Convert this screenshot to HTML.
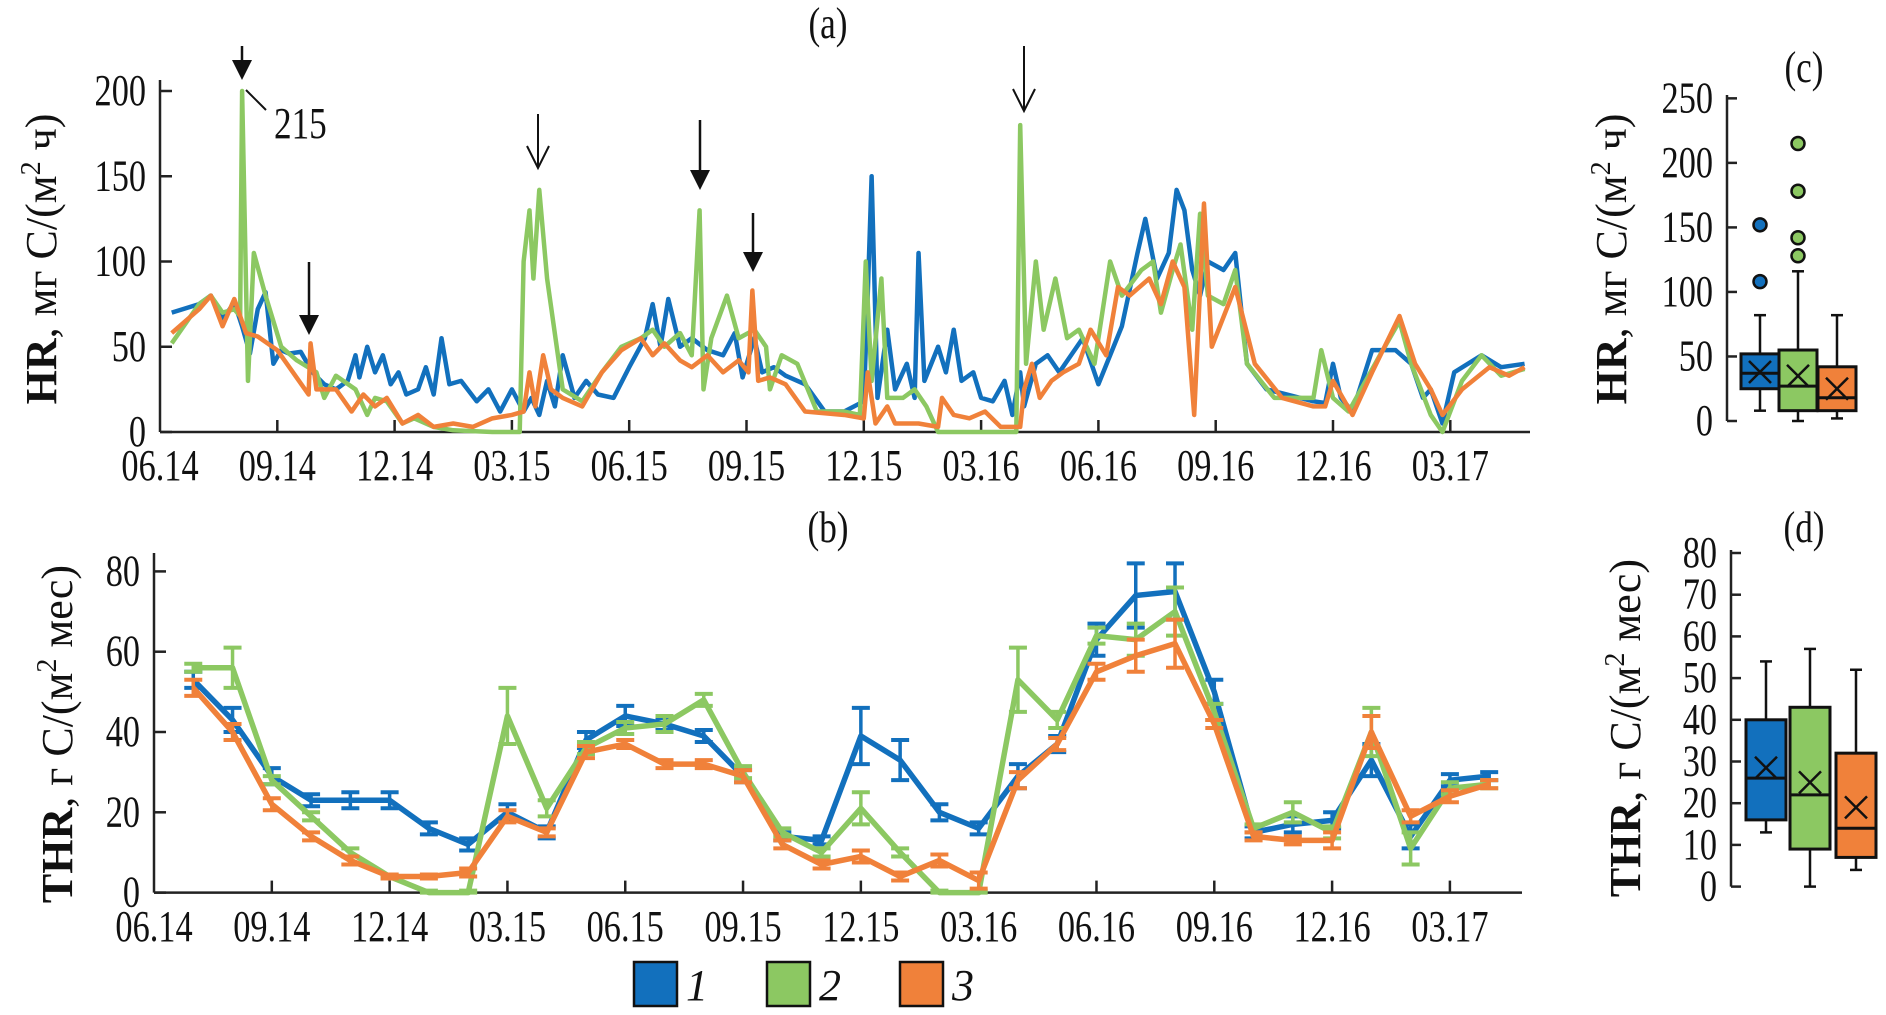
<!DOCTYPE html>
<html><head><meta charset="utf-8"><style>
body{margin:0;background:#fff}
svg{display:block;font-family:"Liberation Serif",serif}
</style></head><body>
<svg id="chart" width="1886" height="1015" viewBox="0 0 1886 1015" xmlns="http://www.w3.org/2000/svg"></svg>
<script>
const seriesColors=['#1270bd','#8cc862','#f0813a'];
const xTickLabels=['06.14','09.14','12.14','03.15','06.15','09.15','12.15','03.16','06.16','09.16','12.16','03.17'];
const hrTicks=[0,50,100,150,200];
const thrTicks=[0,20,40,60,80];
const hrBoxTicks=[0,50,100,150,200,250];
const thrBoxTicks=[0,10,20,30,40,50,60,70,80];
// HR series: [month since 06.14, value]
const hrBlue=[[0.3,70],[1,75],[1.3,80],[1.6,66],[1.9,76],[2.1,62],[2.3,46],[2.5,72],[2.7,82],[2.9,40],[3.1,48],[3.3,46],[3.6,47],[3.9,35],[4.2,28],[4.5,25],[4.8,30],[5,45],[5.1,32],[5.3,50],[5.5,35],[5.7,45],[5.9,28],[6.1,35],[6.3,22],[6.6,25],[6.8,38],[7.0,22],[7.2,55],[7.4,28],[7.7,30],[8.1,18],[8.4,25],[8.7,12],[9.0,25],[9.3,12],[9.5,20],[9.7,10],[9.9,30],[10.1,15],[10.3,45],[10.6,20],[10.9,30],[11.2,22],[11.6,20],[12,38],[12.4,55],[12.6,75],[12.8,50],[13.0,78],[13.3,50],[13.6,55],[14,48],[14.4,45],[14.7,58],[14.9,32],[15.2,55],[15.4,35],[15.7,38],[16.0,33],[16.5,28],[17,12],[17.5,12],[18.0,18],[18.1,80],[18.2,150],[18.35,20],[18.6,60],[18.8,25],[19.1,40],[19.3,20],[19.4,105],[19.55,30],[19.9,50],[20.1,35],[20.3,60],[20.5,30],[20.8,35],[21,20],[21.3,18],[21.6,30],[21.8,10],[22.0,35],[22.1,15],[22.4,40],[22.7,45],[23,35],[23.3,45],[23.6,55],[24,28],[24.3,45],[24.6,62],[25.0,105],[25.2,125],[25.5,90],[25.8,105],[26.0,142],[26.2,130],[26.4,95],[26.6,80],[26.8,100],[27.2,95],[27.5,105],[27.8,40],[28.3,25],[29.5,18],[29.8,17],[30.0,40],[30.2,20],[30.5,12],[31,48],[31.6,48],[32.0,40],[32.3,20],[32.5,25],[32.8,5],[33.1,35],[33.8,45],[34.3,38],[34.9,40]];
const hrGreen=[[0.3,52],[1,75],[1.3,80],[1.6,70],[1.9,72],[2.05,68],[2.1,200],[2.25,30],[2.4,105],[2.7,80],[3.1,50],[3.5,42],[4,35],[4.2,20],[4.5,33],[5,25],[5.3,10],[5.5,20],[5.8,18],[6.2,5],[6.5,8],[7,3],[7.5,1],[8.5,0],[9.2,0],[9.3,100],[9.45,130],[9.55,90],[9.7,142],[9.9,90],[10.3,25],[10.8,18],[11.3,35],[11.8,50],[12.3,55],[12.6,60],[12.9,50],[13.3,58],[13.6,45],[13.8,130],[13.9,25],[14.1,55],[14.5,80],[14.8,55],[15.2,60],[15.5,50],[15.6,25],[15.9,45],[16.3,40],[16.8,12],[17.5,12],[17.9,10],[18.05,100],[18.2,30],[18.45,90],[18.6,20],[19.0,20],[19.3,25],[19.6,15],[19.9,0],[21.9,0],[22.0,180],[22.15,40],[22.4,100],[22.6,60],[22.9,90],[23.2,55],[23.5,60],[23.9,40],[24.3,100],[24.6,80],[25.1,95],[25.4,100],[25.6,70],[25.9,95],[26.1,110],[26.4,60],[26.6,128],[26.8,80],[27.2,75],[27.5,95],[27.8,40],[28.5,20],[29.5,20],[29.7,48],[30.0,20],[30.4,12],[31.2,45],[31.7,65],[32.0,40],[32.5,10],[32.8,0],[33.3,30],[33.8,45],[34.3,33],[34.9,37]];
const hrOrange=[[0.3,58],[1,72],[1.3,80],[1.6,62],[1.9,78],[2.2,58],[2.5,56],[3.0,48],[3.4,35],[3.8,22],[3.85,52],[4.0,25],[4.5,25],[4.9,12],[5.2,22],[5.5,15],[5.8,20],[6.2,5],[6.6,10],[7.0,3],[7.5,5],[8,3],[8.5,8],[9.0,10],[9.3,12],[9.45,35],[9.6,15],[9.8,45],[10.0,25],[10.3,20],[10.8,15],[11.3,35],[11.8,48],[12.3,55],[12.6,45],[12.9,52],[13.3,42],[13.6,38],[14.0,45],[14.4,35],[14.8,42],[15.05,35],[15.15,83],[15.3,30],[15.6,32],[16.0,28],[16.5,12],[17.5,10],[18.0,8],[18.1,35],[18.3,5],[18.6,15],[18.8,5],[19.4,5],[19.9,3],[20.0,20],[20.3,10],[20.7,8],[21.1,12],[21.5,3],[22.0,3],[22.1,25],[22.3,40],[22.5,20],[22.8,30],[23.1,35],[23.5,40],[23.8,60],[24.2,45],[24.5,85],[24.8,80],[25.3,90],[25.6,75],[25.9,100],[26.2,85],[26.45,10],[26.7,134],[26.9,50],[27.5,85],[28,40],[28.7,20],[29.5,15],[29.8,15],[30.0,30],[30.5,10],[31.0,35],[31.7,68],[32.1,40],[32.5,25],[32.8,10],[33.3,25],[34.0,38],[34.5,33],[34.9,38]];
// THR monthly (months 1..34 since 06.14)
const thrMonths=[1,2,3,4,5,6,7,8,9,10,11,12,13,14,15,16,17,18,19,20,21,22,23,24,25,26,27,28,29,30,31,32,33,34];
const thrBlue=[53,43,29,23,23,23,16,12,20,15,38,44,42,39,29,14,13,39,33,20,16,29,37,63,74,75,50,15,17,18,33,14,28,29];
const thrGreen=[56,56,28,19,10,4,0,0,44,21,36,41,42,48,30,15,10,21,10,0,0,53,43,64,63,70,45,16,20,15,40,11,26,27];
const thrOrange=[51,40,22,14,8,4,4,5,19,15,35,37,32,32,29,12,7,9,4,8,3,28,37,55,59,62,42,14,13,13,40,19,24,27];
const thrBlueErr=[2,3,2,1.5,2,2,1.5,1.5,2,1.5,2,2.5,1.5,1.5,1.5,1,1,7,5,2,1.5,3,2,4,8,7,3,1.5,2,2,4,3,1.5,1];
const thrGreenErr=[1,5,1,1,1,0.5,0.5,0.5,7,2,1.5,1.5,2,1.5,1.5,1,1,4,1,0.5,0.5,8,2,2,4,6,2,1,2.5,1.5,6,4,1.5,1];
const thrOrangeErr=[2,2,1.5,1,1,0.5,0.5,1,1.5,1,1.5,1,1,1,1.5,1,1,1.5,1,1.5,2,2,1.5,2,4,6,1,1,1,2,4,1.5,1.5,1];
// Box plot stats: [low, q1, median, q3, high, mean]
const hrBoxBlue=[8,25,37,52,82,38];
const hrBoxGreen=[0,8,27,55,116,35];
const hrBoxOrange=[2,8,18,42,82,25];
const hrOutBlue=[108,152];
const hrOutGreen=[128,142,178,215];
const hrOutOrange=[];
const thrBoxBlue=[13,16,26,40,54,28.5];
const thrBoxGreen=[0,9,22,43,57,25];
const thrBoxOrange=[4,7,14,32,52,19];

const NS='http://www.w3.org/2000/svg';
const svg=document.getElementById('chart');
function mk(tag,attrs,parent){const e=document.createElementNS(NS,tag);for(const k in attrs)e.setAttribute(k,attrs[k]);(parent||svg).appendChild(e);return e;}
function txt(x,y,s,size,anchor,parent,sx){const g=mk('g',{transform:`translate(${x},${y}) scale(${sx||0.78},1)`},parent);const t=mk('text',{x:0,y:0,'font-size':size,'text-anchor':anchor||'middle',fill:'#111'},g);t.textContent=s;return t;}

const xA=m=>160+m*39.1, yA=v=>432-v*1.705;
const xB=m=>154+m*39.27, yB=v=>892.6-v*4.015;
const yC=v=>421-v*1.2906, yD=v=>886.6-v*4.17;
const TF=44;

function axes(xs,ys,yTicks,x0,x1,yTop,y0,labelY,name){
  const g=mk('g',{});
  
  
  mk('line',{x1:x0,y1:yTop,x2:x0,y2:y0,stroke:'#222','stroke-width':2.5},g);
  mk('line',{x1:x0,y1:y0,x2:x1,y2:y0,stroke:'#222','stroke-width':2.5},g);
  yTicks.forEach(v=>{mk('line',{x1:x0,y1:ys(v),x2:x0+12,y2:ys(v),stroke:'#222','stroke-width':2.5},g);
    txt(x0-14,ys(v)+14,String(v),TF,'end',g);});
  xTickLabels.forEach((l,i)=>{const x=xs(i*3);if(i>0)mk('line',{x1:x,y1:y0,x2:x,y2:y0-12,stroke:'#222','stroke-width':2.5},g);
    txt(x,labelY,l,TF,'middle',g);});
}
axes(xA,yA,hrTicks,160,1530,80,432,480,'hr-axes');
axes(xB,yB,thrTicks,154,1522,553,892.6,941,'thr-axes');

function hrLine(data,color,name){
  const p=mk('polyline',{points:data.map(d=>xA(d[0])+','+yA(Math.min(d[1],200))).join(' '),fill:'none',stroke:color,'stroke-width':4.5,'stroke-linejoin':'round'});
  
  
}
hrLine(hrBlue,seriesColors[0],'hr-line-1');
hrLine(hrGreen,seriesColors[1],'hr-line-2');
hrLine(hrOrange,seriesColors[2],'hr-line-3');

function thrLine(vals,errs,color,name){
  const g=mk('g',{});
  
  
  vals.forEach((v,i)=>{const x=xB(thrMonths[i]);const lo=Math.max(0,v-errs[i]),hi=v+errs[i];
    mk('line',{x1:x,y1:yB(lo),x2:x,y2:yB(hi),stroke:color,'stroke-width':3.5},g);
    mk('line',{x1:x-9,y1:yB(lo),x2:x+9,y2:yB(lo),stroke:color,'stroke-width':4},g);
    mk('line',{x1:x-9,y1:yB(hi),x2:x+9,y2:yB(hi),stroke:color,'stroke-width':4},g);});
  mk('polyline',{points:vals.map((v,i)=>xB(thrMonths[i])+','+yB(v)).join(' '),fill:'none',stroke:color,'stroke-width':5.5,'stroke-linejoin':'round'},g);
}
thrLine(thrBlue,thrBlueErr,seriesColors[0],'thr-line-1');
thrLine(thrGreen,thrGreenErr,seriesColors[1],'thr-line-2');
thrLine(thrOrange,thrOrangeErr,seriesColors[2],'thr-line-3');

function arrow(x,y1,y2,filled,name){const g=mk('g',{});
  
  
  if(filled){mk('line',{x1:x,y1:y1,x2:x,y2:y2-16,stroke:'#111','stroke-width':2.5},g);
    mk('polygon',{points:`${x-10},${y2-20} ${x+10},${y2-20} ${x},${y2}`,fill:'#111'},g);}
  else{mk('line',{x1:x,y1:y1,x2:x,y2:y2,stroke:'#111','stroke-width':2},g);
    mk('polyline',{points:`${x-11},${y2-22} ${x},${y2} ${x+11},${y2-22}`,fill:'none',stroke:'#111','stroke-width':2},g);}
}
arrow(242,46,80,true,'arrow-1');
arrow(309,262,335,true,'arrow-2');
arrow(538,114,168,false,'arrow-3');
arrow(700,120,190,true,'arrow-4');
arrow(753,213,272,true,'arrow-5');
arrow(1024,46,111,false,'arrow-6');
mk('line',{x1:246,y1:90,x2:266,y2:110,stroke:'#111','stroke-width':2});
const l215=txt(274,138,'215',TF,'start',null,0.8);



function boxAxis(x0,ys,ticks,yTop,name){const g=mk('g',{});
  
  
  mk('line',{x1:x0,y1:yTop,x2:x0,y2:ys(0),stroke:'#222','stroke-width':2.5},g);
  ticks.forEach(v=>{mk('line',{x1:x0,y1:ys(v),x2:x0+10,y2:ys(v),stroke:'#222','stroke-width':2.5},g);
    txt(x0-14,ys(v)+14,String(v),TF,'end',g);});}
boxAxis(1727,yC,hrBoxTicks,95,'hr-box-axis');
boxAxis(1731,yD,thrBoxTicks,550,'thr-box-axis');
function box(cx,w,s,outs,ys,color,name){const g=mk('g',{});
  
  
  mk('line',{x1:cx,y1:ys(s[0]),x2:cx,y2:ys(s[4]),stroke:'#111','stroke-width':2.5},g);
  mk('line',{x1:cx-6,y1:ys(s[0]),x2:cx+6,y2:ys(s[0]),stroke:'#111','stroke-width':2.5},g);
  mk('line',{x1:cx-6,y1:ys(s[4]),x2:cx+6,y2:ys(s[4]),stroke:'#111','stroke-width':2.5},g);
  mk('rect',{x:cx-w/2,y:ys(s[3]),width:w,height:ys(s[1])-ys(s[3]),fill:color,stroke:'#111','stroke-width':3},g);
  mk('line',{x1:cx-w/2,y1:ys(s[2]),x2:cx+w/2,y2:ys(s[2]),stroke:'#111','stroke-width':3},g);
  const my=ys(s[5]);
  mk('path',{d:`M${cx-11},${my-11}L${cx+11},${my+11}M${cx-11},${my+11}L${cx+11},${my-11}`,stroke:'#111','stroke-width':2.5},g);
  outs.forEach(o=>mk('circle',{cx:cx,cy:ys(o),r:6.5,fill:color,stroke:'#111','stroke-width':2.5},g));}
box(1760,38,hrBoxBlue,hrOutBlue,yC,seriesColors[0],'hr-box-1');
box(1798,38,hrBoxGreen,hrOutGreen,yC,seriesColors[1],'hr-box-2');
box(1837,38,hrBoxOrange,hrOutOrange,yC,seriesColors[2],'hr-box-3');
box(1766,40,thrBoxBlue,[],yD,seriesColors[0],'thr-box-1');
box(1810,40,thrBoxGreen,[],yD,seriesColors[1],'thr-box-2');
box(1856,40,thrBoxOrange,[],yD,seriesColors[2],'thr-box-3');

[['(a)',828,38,'panel-a-title'],['(b)',828,542,'panel-b-title'],['(c)',1804,82,'panel-c-title'],['(d)',1804,542,'panel-d-title']].forEach(a=>{
  const t=txt(a[1],a[2],a[0],TF,'middle',null,0.8);
  
  });

function ytitle(x,y,html,name){const t=mk('text',{transform:`translate(${x},${y}) rotate(-90)`,'text-anchor':'middle','font-size':44,fill:'#111'});t.innerHTML=html;
  
  }
const hrT='<tspan font-weight="bold">HR</tspan>, мг C/(м<tspan font-size="28" dy="-16">2</tspan><tspan dy="16"> ч)</tspan>';
const thrT='<tspan font-weight="bold">THR</tspan>, г C/(м<tspan font-size="28" dy="-16">2</tspan><tspan dy="16"> мес)</tspan>';
ytitle(56,259,hrT,'hr-y-title');
ytitle(72,734,thrT,'thr-y-title');
ytitle(1626,259,hrT,'hr-box-y-title');
ytitle(1640,728,thrT,'thr-box-y-title');

['1','2','3'].forEach((l,i)=>{const g=mk('g',{});
  
  
  const x=634+i*133;
  mk('rect',{x:x,y:962,width:43,height:44,fill:seriesColors[i],stroke:'#111','stroke-width':2.5},g);
  const t=mk('text',{x:x+52,y:1000,'font-size':44,'font-style':'italic',fill:'#111'},g);t.textContent=l;});
</script>
</body></html>
